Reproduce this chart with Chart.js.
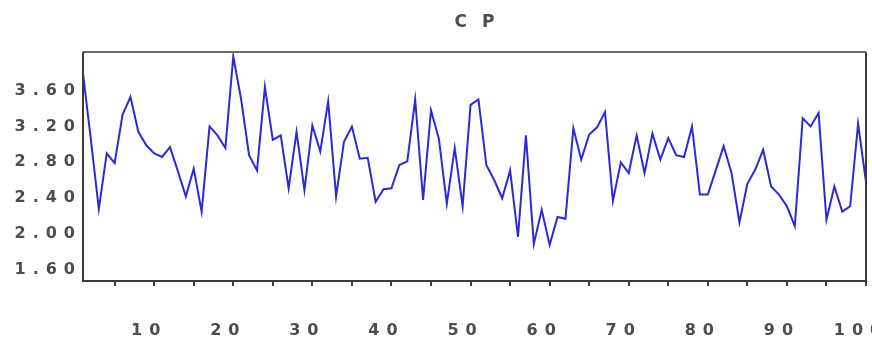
<!DOCTYPE html>
<html>
<head>
<meta charset="utf-8">
<script src="https://cdn.jsdelivr.net/npm/chart.js@4"></script>
<style>
  html, body { margin: 0; padding: 0; background: #ffffff; }
  #wrap { width: 872px; height: 340px; }
</style>
</head>
<body>
<div id="wrap"><canvas id="c" width="872" height="340"></canvas></div>
<script>
const titleText = 'CP';
const periods = Array.from({ length: 100 }, (_, i) => i + 1);
const cpValues = [
  3.79, 3.05, 2.28, 2.90, 2.79, 3.33, 3.53, 3.14, 2.99, 2.90,
  2.86, 2.97, 2.70, 2.42, 2.73, 2.25, 3.20, 3.10, 2.96, 3.98,
  3.50, 2.88, 2.71, 3.64, 3.05, 3.10, 2.51, 3.14, 2.49, 3.21,
  2.92, 3.48, 2.42, 3.03, 3.20, 2.84, 2.85, 2.36, 2.50, 2.51,
  2.77, 2.81, 3.50, 2.38, 3.38, 3.06, 2.34, 2.96, 2.31, 3.44,
  3.50, 2.77, 2.60, 2.40, 2.71, 1.97, 3.10, 1.89, 2.27, 1.88,
  2.19, 2.17, 3.18, 2.83, 3.11, 3.19, 3.36, 2.37, 2.80, 2.68,
  3.10, 2.68, 3.12, 2.83, 3.07, 2.88, 2.86, 3.20, 2.44, 2.44,
  2.71, 2.98, 2.68, 2.13, 2.56, 2.72, 2.94, 2.53, 2.44, 2.31,
  2.09, 3.29, 3.20, 3.35, 2.16, 2.53, 2.25, 2.31, 3.23, 2.58
];
const yTickValues = [1.6, 2.0, 2.4, 2.8, 3.2, 3.6];
const xTickValues = [5, 10, 15, 20, 25, 30, 35, 40, 45, 50, 55, 60, 65, 70, 75, 80, 85, 90, 95, 100];
const xLabelValues = [10, 20, 30, 40, 50, 60, 70, 80, 90, 100];

const textColor = '#4d4d4d';
const frameColor = '#3a3a3a';
const lineColor = '#2a2ad6';
const labelFont = { family: '"DejaVu Sans", sans-serif', size: 16, weight: 'bold' };

const framePlugin = {
  id: 'framePlugin',
  beforeDraw(chart) {
    chart.ctx.letterSpacing = '7px';
  },
  afterDraw(chart) {
    const ctx = chart.ctx;
    const a = chart.chartArea;
    ctx.save();
    ctx.letterSpacing = '0px';
    ctx.lineWidth = 2;
    ctx.strokeStyle = '#6a6a6a';
    ctx.beginPath();
    ctx.moveTo(a.left, a.top);
    ctx.lineTo(a.right, a.top);
    ctx.stroke();
    ctx.strokeStyle = frameColor;
    ctx.beginPath();
    ctx.moveTo(a.right, a.top);
    ctx.lineTo(a.right, a.bottom);
    ctx.lineTo(a.left, a.bottom);
    ctx.lineTo(a.left, a.top);
    ctx.stroke();
    // title
    const spacing = 15;
    ctx.font = 'bold 17px "DejaVu Sans", sans-serif';
    ctx.letterSpacing = spacing + 'px';
    ctx.fillStyle = textColor;
    ctx.textBaseline = 'middle';
    ctx.textAlign = 'left';
    const w = ctx.measureText(titleText).width - spacing;
    const cx = (a.left + a.right) / 2;
    ctx.fillText(titleText, cx - w / 2, 23);
    ctx.restore();
  }
};

new Chart(document.getElementById('c'), {
  type: 'line',
  data: {
    datasets: [{
      label: titleText,
      data: periods.map((p, i) => ({ x: p, y: cpValues[i] })),
      borderColor: lineColor,
      borderWidth: 2,
      pointRadius: 0,
      tension: 0,
      fill: false
    }]
  },
  options: {
    responsive: false,
    animation: false,
    layout: { padding: { top: 52, right: 6, left: 0, bottom: 0 } },
    plugins: {
      legend: { display: false },
      title: { display: false },
      tooltip: { enabled: false }
    },
    scales: {
      x: {
        type: 'linear',
        min: 1,
        max: 100,
        border: { display: false },
        grid: {
          drawOnChartArea: false,
          drawTicks: true,
          tickLength: 5,
          color: frameColor,
          lineWidth: 2
        },
        afterBuildTicks(scale) {
          scale.ticks = xTickValues.map(v => ({ value: v }));
        },
        afterFit(scale) {
          scale.height = 59;
          scale.paddingLeft = 0;
          scale.paddingRight = 0;
        },
        ticks: {
          autoSkip: false,
          maxRotation: 0,
          minRotation: 0,
          padding: 35,
          labelOffset: -5,
          color: textColor,
          font: labelFont,
          callback: (v) => xLabelValues.includes(v) ? String(v) : ''
        }
      },
      y: {
        min: 1.477,
        max: 4.03,
        border: { display: false },
        grid: { display: false, drawTicks: false },
        afterBuildTicks(scale) {
          scale.ticks = yTickValues.map(v => ({ value: v }));
        },
        afterFit(scale) {
          scale.width = 83;
          scale.paddingTop = 0;
          scale.paddingBottom = 0;
        },
        ticks: {
          padding: 1,
          color: textColor,
          font: labelFont,
          callback: (v) => Number(v).toFixed(2)
        }
      }
    }
  },
  plugins: [framePlugin]
});
</script>
</body>
</html>
